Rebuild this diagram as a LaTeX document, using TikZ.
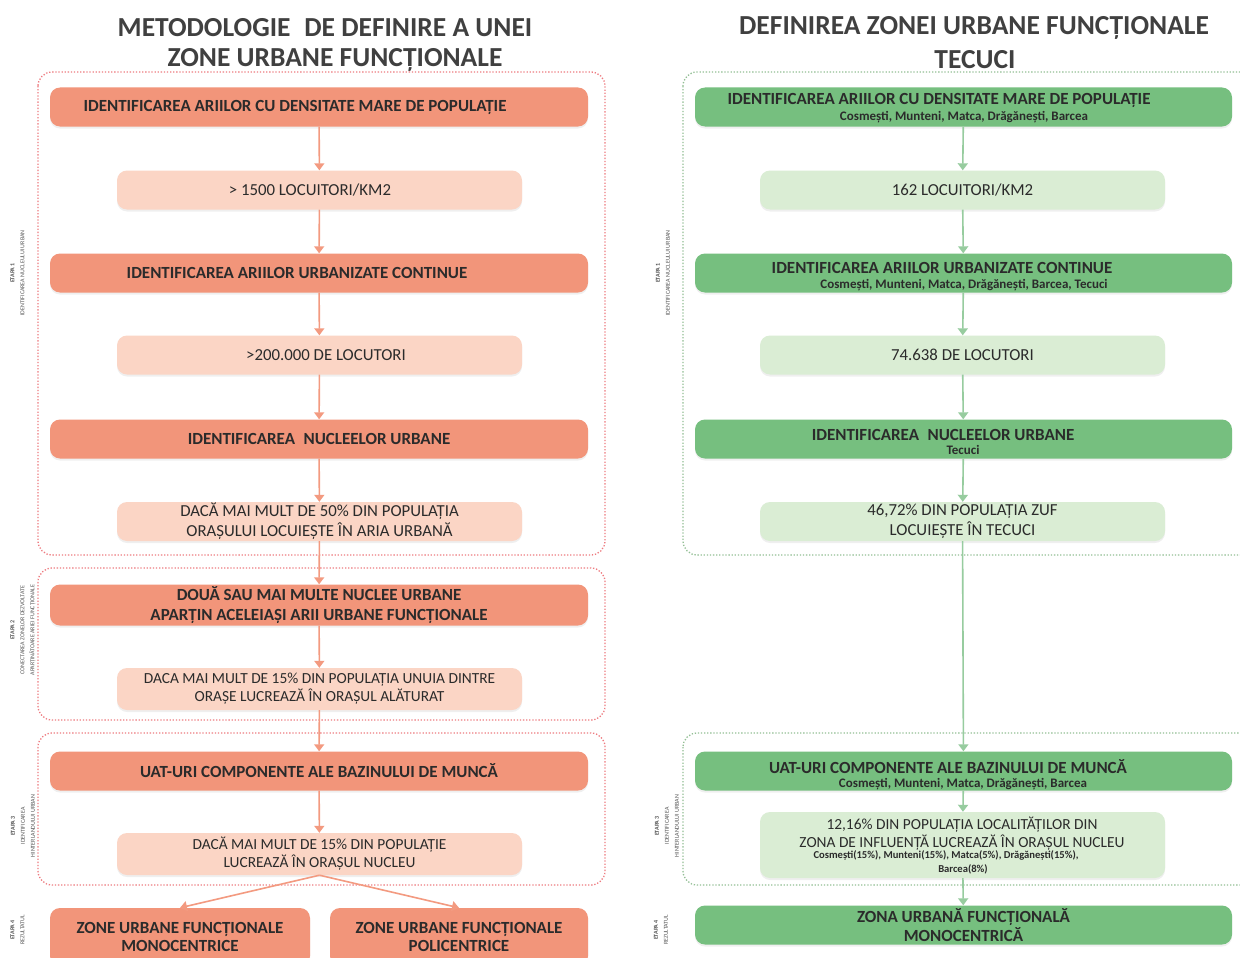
\documentclass[tikz,border=0pt]{standalone}
\usepackage{fontspec}
\setmainfont{Carlito}
\usetikzlibrary{arrows.meta,shadows}

\definecolor{salD}{HTML}{F2957A}
\definecolor{salL}{HTML}{FBD5C5}
\definecolor{grnD}{HTML}{76BF7F}
\definecolor{grnL}{HTML}{DAEDD4}
\definecolor{dotR}{HTML}{EE7B80}
\definecolor{dotG}{HTML}{93BF95}
\definecolor{ink}{HTML}{2B2B2B}
\definecolor{arrR}{HTML}{F39A80}
\definecolor{arrG}{HTML}{97CC9F}

\tikzset{
  box/.style={rounded corners=10pt, inner sep=0pt, draw=none, text=ink, align=center,
    drop shadow={opacity=0.12, shadow xshift=0pt, shadow yshift=-2pt}},
  hdfont/.style={font=\bfseries\fontsize{17}{20}\selectfont},
  ltfont/.style={font=\fontsize{16.8}{20}\selectfont},
  midfont/.style={font=\fontsize{15.4}{18}\selectfont},
  darkbox/.style={box, hdfont, fill=salD, minimum width=538pt, minimum height=39pt},
  lightbox/.style={box, ltfont, fill=salL, minimum width=405pt, minimum height=39pt},
  gdark/.style={box, hdfont, fill=grnD, minimum width=537pt, minimum height=39pt},
  glight/.style={box, ltfont, fill=grnL, minimum width=405pt, minimum height=39pt},
  hd/.style={hdfont, text=ink, inner sep=0pt},
  sm/.style={font=\bfseries\fontsize{13}{15}\selectfont, text=ink, inner sep=0pt},
  xs/.style={font=\bfseries\fontsize{10.6}{12}\selectfont, text=ink, inner sep=0pt},
  lt/.style={ltfont, text=ink, inner sep=0pt},
  mt/.style={midfont, text=ink, inner sep=0pt},
  frameR/.style={draw=dotR, line width=1.3pt, dash pattern=on 1.3pt off 1.8pt, rounded corners=14pt},
  frameG/.style={draw=dotG, line width=1.3pt, dash pattern=on 1.3pt off 1.8pt, rounded corners=14pt},
  arR/.style={draw=arrR, line width=1.6pt, -{Triangle[width=10pt,length=7pt]}},
  arG/.style={draw=arrG, line width=1.6pt, -{Triangle[width=10pt,length=7pt]}},
  ttl/.style={font=\bfseries\fontsize{27.5}{30}\selectfont, text=ink!90, inner sep=0pt},
  vlab/.style={rotate=90, font=\fontsize{6}{10}\selectfont, text=ink!80, align=center, inner sep=0pt}
}

\begin{document}
\begin{tikzpicture}[x=1pt,y=-1pt]
\fill[white] (0,0) rectangle (1240,958);
\clip (0,0) rectangle (1240,958);

% titles
\node[ttl] (t1) at (325,28) {METODOLOGIE\enspace DE DEFINIRE A UNEI};
\node[ttl] (t2) at (335,60) {ZONE URBANE FUNCȚIONALE};
\node[ttl] (t3) at (974,28) {DEFINIREA ZONEI URBANE FUNCȚIONALE};
\node[ttl] (t4) at (975,60) {TECUCI};

% stage frames
\draw[frameR] (38,72) rectangle (605,555);
\draw[frameR] (38,568) rectangle (605,720);
\draw[frameR] (38,733) rectangle (605,885);
\draw[frameG] (683,72) rectangle (1262,555);
\draw[frameG] (683,733) rectangle (1262,885);

% stage labels
\node[vlab] (e1) at (17.5,273) {\textbf{ETAPA 1}\\IDENTIFICAREA NUCLEULUI URBAN};
\node[vlab] (e2) at (23,630) {\textbf{ETAPA 2}\\CONECTAREA ZONELOR DEZVOLTATE\\APARȚINĂTOARE ARIEI FUNCȚIONALE};
\node[vlab] (e3) at (23,826) {\textbf{ETAPA 3}\\IDENTIFICAREA\\HINTERLANDULUI URBAN};
\node[vlab] (e4) at (17.5,930) {\textbf{ETAPA 4}\\REZULTATUL};
\node[vlab] (f1) at (663,273) {\textbf{ETAPA 1}\\IDENTIFICAREA NUCLEULUI URBAN};
\node[vlab] (f3) at (667,826) {\textbf{ETAPA 3}\\IDENTIFICAREA\\HINTERLANDULUI URBAN};
\node[vlab] (f4) at (661,930) {\textbf{ETAPA 4}\\REZULTATUL};

% methodology column
\node[darkbox] (d1) at (319,107) {};
\node[hd] (d1t) at (295,107) {IDENTIFICAREA ARIILOR CU DENSITATE MARE DE POPULAȚIE};
\node[lightbox] (l1) at (319.5,190) {};
\node[lt] (l1t) at (310,190) {> 1500 LOCUITORI/KM2};
\node[darkbox] (d2) at (319,273) {};
\node[hd] (d2t) at (297,273) {IDENTIFICAREA ARIILOR URBANIZATE CONTINUE};
\node[lightbox] (l2) at (319.5,355) {};
\node[lt] (l2t) at (326,355) {>200.000 DE LOCUTORI};
\node[darkbox] (d3) at (319,439) {IDENTIFICAREA\enspace NUCLEELOR URBANE};
\node[lightbox] (l3) at (319.5,521.5) {DACĂ MAI MULT DE 50\% DIN POPULAȚIA\\ORAȘULUI LOCUIEȘTE ÎN ARIA URBANĂ};
\node[darkbox, minimum height=41pt] (d4) at (319,605) {DOUĂ SAU MAI MULTE NUCLEE URBANE\\APARȚIN ACELEIAȘI ARII URBANE FUNCȚIONALE};
\node[lightbox, minimum height=42pt, midfont] (l4) at (319.5,689) {DACA MAI MULT DE 15\% DIN POPULAȚIA UNUIA DINTRE\\ORAȘE LUCREAZĂ ÎN ORAȘUL ALĂTURAT};
\node[darkbox] (d5) at (319,771) {UAT-URI COMPONENTE ALE BAZINULUI DE MUNCĂ};
\node[lightbox, minimum height=42pt, midfont] (l5) at (319.5,854) {DACĂ MAI MULT DE 15\% DIN POPULAȚIE\\LUCREAZĂ ÎN ORAȘUL NUCLEU};
\node[darkbox, minimum width=260pt, minimum height=58pt, font=\bfseries\fontsize{17}{18}\selectfont] (b1) at (180,937) {ZONE URBANE FUNCȚIONALE\\MONOCENTRICE};
\node[darkbox, minimum width=258pt, minimum height=58pt, font=\bfseries\fontsize{17}{18}\selectfont] (b2) at (459,937) {ZONE URBANE FUNCȚIONALE\\POLICENTRICE};

\draw[arR] (d1) -- (l1);
\draw[arR] (l1) -- (d2);
\draw[arR] (d2) -- (l2);
\draw[arR] (l2) -- (d3);
\draw[arR] (d3) -- (l3);
\draw[arR] (l3) -- (d4);
\draw[arR] (d4) -- (l4);
\draw[arR] (l4) -- (d5);
\draw[arR] (d5) -- (l5);
\draw[arR] (l5.south) -- (b1.north);
\draw[arR] (l5.south) -- (b2.north);

% Tecuci column
\node[gdark] (g1) at (963.5,107) {};
\node[hd] (g1a) at (939,100) {IDENTIFICAREA ARIILOR CU DENSITATE MARE DE POPULAȚIE};
\node[sm] (g1b) at (964,117) {Cosmești, Munteni, Matca, Drăgănești, Barcea};
\node[glight] (m1) at (962.5,190) {162 LOCUITORI/KM2};
\node[gdark] (g2) at (963.5,273) {};
\node[hd] (g2a) at (942,268) {IDENTIFICAREA ARIILOR URBANIZATE CONTINUE};
\node[sm] (g2b) at (964,285) {Cosmești, Munteni, Matca, Drăgănești, Barcea, Tecuci};
\node[glight] (m2) at (962.5,355) {74.638 DE LOCUTORI};
\node[gdark] (g3) at (963.5,439) {};
\node[hd] (g3a) at (943,435) {IDENTIFICAREA\enspace NUCLEELOR URBANE};
\node[sm] (g3b) at (963,450) {Tecuci};
\node[glight] (m3) at (962.5,521.5) {46,72\% DIN POPULAȚIA ZUF\\LOCUIEȘTE ÎN TECUCI};
\node[gdark] (g4) at (963.5,771) {};
\node[hd] (g4a) at (948,767) {UAT-URI COMPONENTE ALE BAZINULUI DE MUNCĂ};
\node[sm] (g4b) at (963,784) {Cosmești, Munteni, Matca, Drăgănești, Barcea};
\node[glight, minimum height=66pt] (m4) at (962.5,845) {};
\node[mt] (m4a) at (962,825) {12,16\% DIN POPULAȚIA LOCALITĂȚILOR DIN};
\node[mt] (m4b) at (962,843) {ZONA DE INFLUENȚĂ LUCREAZĂ ÎN ORAȘUL NUCLEU};
\node[xs] (m4c) at (946,856) {Cosmești(15\%), Munteni(15\%), Matca(5\%), Drăgănești(15\%),};
\node[xs] (m4d) at (963,869) {Barcea(8\%)};
\node[gdark, font=\bfseries\fontsize{17}{19}\selectfont] (g5) at (963.5,925) {ZONA URBANĂ FUNCȚIONALĂ\\MONOCENTRICĂ};

\draw[arG] (g1) -- (m1);
\draw[arG] (m1) -- (g2);
\draw[arG] (g2) -- (m2);
\draw[arG] (m2) -- (g3);
\draw[arG] (g3) -- (m3);
\draw[arG] (m3) -- (g4);
\draw[arG] (g4) -- (m4);
\draw[arG] (m4) -- (g5);
\end{tikzpicture}
\end{document}
